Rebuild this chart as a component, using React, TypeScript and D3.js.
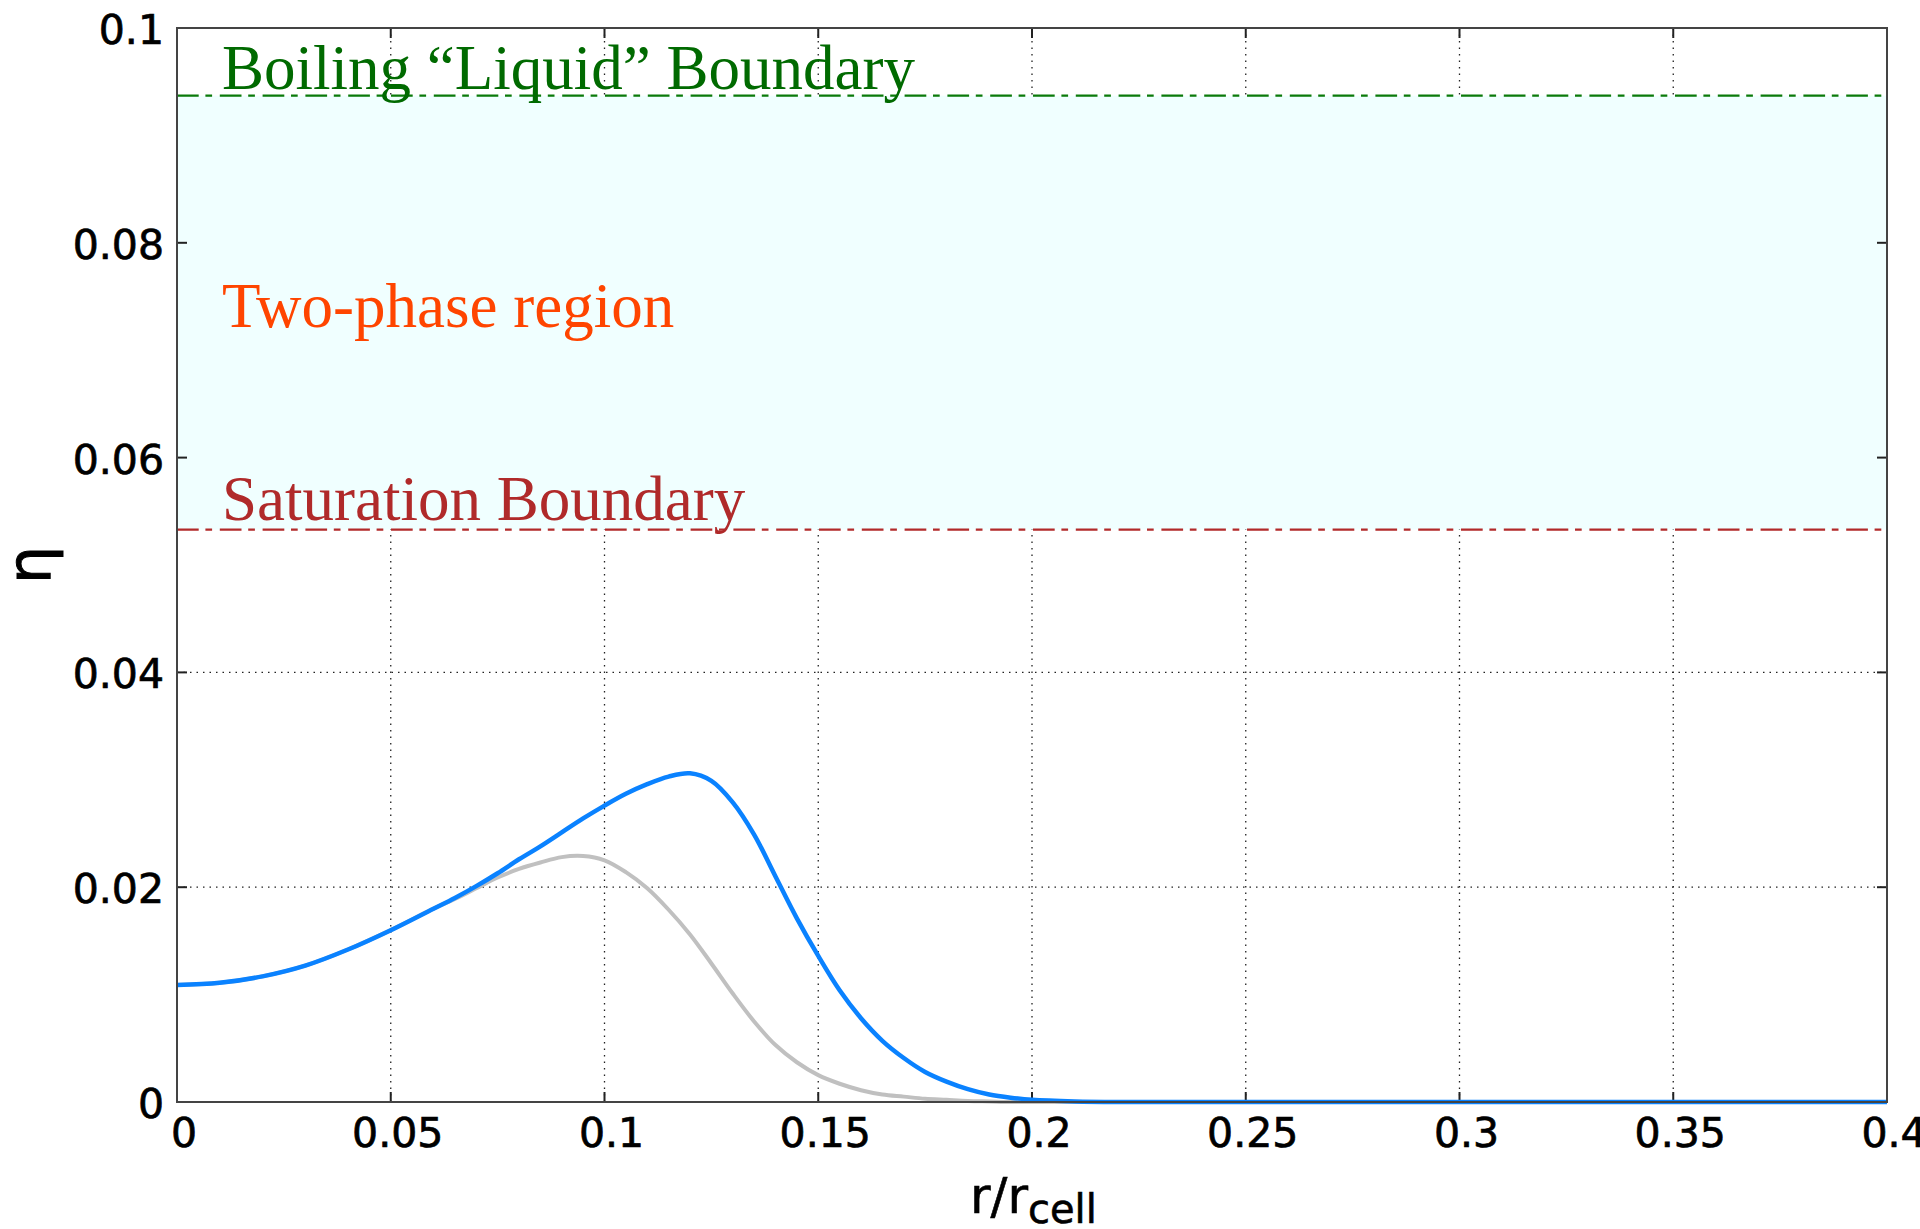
import React from 'react';
import * as d3 from 'd3';

const rValues = [0, 0.01, 0.02, 0.03, 0.04, 0.05, 0.06, 0.065, 0.07, 0.075, 0.08, 0.085, 0.09, 0.095, 0.1, 0.105, 0.11, 0.115, 0.12, 0.125, 0.13, 0.135, 0.14, 0.145, 0.15, 0.155, 0.16, 0.165, 0.17, 0.175, 0.18, 0.185, 0.19, 0.195, 0.2, 0.21, 0.22, 0.25, 0.3, 0.35, 0.4];
const etaBlue = [0.0109, 0.0111, 0.0117, 0.0127, 0.0142, 0.016, 0.018, 0.019, 0.0201, 0.0213, 0.0226, 0.0238, 0.0251, 0.0264, 0.0276, 0.0287, 0.0296, 0.0303, 0.0306, 0.0299, 0.0279, 0.0249, 0.0210, 0.0171, 0.0136, 0.0104, 0.0078, 0.0057, 0.0041, 0.0028, 0.0019, 0.0012, 0.0007, 0.0004, 0.0002, 0.00005, 0, 0, 0, 0, 0];
const etaGray = [0.0109, 0.0111, 0.0117, 0.0127, 0.0142, 0.016, 0.018, 0.0189, 0.0199, 0.0209, 0.0217, 0.0223, 0.0228, 0.0229, 0.0225, 0.0214, 0.0199, 0.0179, 0.0156, 0.0129, 0.0101, 0.0075, 0.0053, 0.0037, 0.0025, 0.0017, 0.0011, 0.0007, 0.0005, 0.0003, 0.0002, 0.0001, 0.00005, 0, 0, 0, 0, 0, 0, 0, 0];

const xTicks = [0, 0.05, 0.1, 0.15, 0.2, 0.25, 0.3, 0.35, 0.4];
const xTickLabels = ['0', '0.05', '0.1', '0.15', '0.2', '0.25', '0.3', '0.35', '0.4'];
const yTicks = [0, 0.02, 0.04, 0.06, 0.08, 0.1];
const yTickLabels = ['0', '0.02', '0.04', '0.06', '0.08', '0.1'];

const saturationBoundary = 0.0533;
const boilingBoundary = 0.0937;

const L = 177, R = 1887, T = 28, B = 1102;

export default function App() {
  const x = d3.scaleLinear().domain([0, 0.4]).range([L, R]);
  const y = d3.scaleLinear().domain([0, 0.1]).range([B, T]);
  const line = d3.line<number>()
    .x((_, i) => x(rValues[i]))
    .y((d) => Math.min(y(d), B))
    .curve(d3.curveCatmullRom.alpha(0.5));
  const sans = 'DejaVu Sans, Verdana, sans-serif';
  const serif = 'Liberation Serif, Times New Roman, serif';
  const dashDot = '21.7,6.7,6.7,7.7';
  return (
    <svg width={1920} height={1229} style={{ position: 'absolute', left: 0, top: 0, background: '#fff' }}>
      <rect x={0} y={0} width={1920} height={1229} fill="#fff" />
      {/* grid */}
      {xTicks.slice(1, -1).map((t) => (
        <line key={'gx' + t} x1={x(t)} x2={x(t)} y1={T} y2={B} stroke="#222" strokeWidth={1.3} strokeDasharray="1.5,5" />
      ))}
      {yTicks.slice(1, -1).map((t) => (
        <line key={'gy' + t} x1={L} x2={R} y1={y(t)} y2={y(t)} stroke="#222" strokeWidth={1.3} strokeDasharray="1.5,5" />
      ))}
      {/* two-phase region */}
      <rect x={L} y={y(boilingBoundary)} width={R - L} height={y(saturationBoundary) - y(boilingBoundary)} fill="#f0ffff" />
      {/* ticks */}
      {xTicks.slice(1, -1).map((t) => (
        <g key={'tx' + t}>
          <line x1={x(t)} x2={x(t)} y1={B} y2={B - 10} stroke="#222" strokeWidth={2} />
          <line x1={x(t)} x2={x(t)} y1={T} y2={T + 10} stroke="#222" strokeWidth={2} />
        </g>
      ))}
      {yTicks.slice(1, -1).map((t) => (
        <g key={'ty' + t}>
          <line x1={L} x2={L + 10} y1={y(t)} y2={y(t)} stroke="#222" strokeWidth={2} />
          <line x1={R} x2={R - 10} y1={y(t)} y2={y(t)} stroke="#222" strokeWidth={2} />
        </g>
      ))}
      {/* boundaries */}
      <line x1={L} x2={R} y1={y(boilingBoundary)} y2={y(boilingBoundary)} stroke="#0a7a0a" strokeWidth={2.2} strokeDasharray={dashDot} />
      <line x1={L} x2={R} y1={y(saturationBoundary)} y2={y(saturationBoundary)} stroke="#b22a2a" strokeWidth={2.2} strokeDasharray={dashDot} />
      {/* annotations */}
      <text x={222} y={89} fontFamily={serif} fontSize={63} fill="#006a00">Boiling “Liquid” Boundary</text>
      <text x={222} y={327} fontFamily={serif} fontSize={63} fill="#ff4500">Two-phase region</text>
      <text x={222} y={520} fontFamily={serif} fontSize={63} fill="#b02a2a">Saturation Boundary</text>
      {/* curves */}
      <path d={line(etaGray) || ''} fill="none" stroke="#c0c0c0" strokeWidth={4} />
      <path d={line(etaBlue) || ''} fill="none" stroke="#0a82ff" strokeWidth={4.5} />
      {/* frame */}
      <rect x={L} y={T} width={R - L} height={B - T} fill="none" stroke="#444" strokeWidth={2} />
      {/* tick labels */}
      {xTicks.map((t, i) => (
        <text key={'lx' + t} x={x(t) + 7} y={1147} textAnchor="middle" fontFamily={sans} fontSize={41} fill="#000" stroke="#000" strokeWidth={0.7}>{xTickLabels[i]}</text>
      ))}
      {yTicks.map((t, i) => (
        <text key={'ly' + t} x={164} y={y(t) + 2} textAnchor="end" dominantBaseline="central" fontFamily={sans} fontSize={41} fill="#000" stroke="#000" strokeWidth={0.7}>{yTickLabels[i]}</text>
      ))}
      {/* axis titles */}
      <text x={970} y={1213} fontFamily={sans} fontSize={50} fill="#000" stroke="#000" strokeWidth={0.6}>
        r/r<tspan fontSize={40} dy={10}>cell</tspan>
      </text>
      <text transform={`translate(50,565) rotate(-90)`} textAnchor="middle" fontFamily={sans} fontSize={60} fill="#000" stroke="#000" strokeWidth={1}>η</text>
    </svg>
  );
}
